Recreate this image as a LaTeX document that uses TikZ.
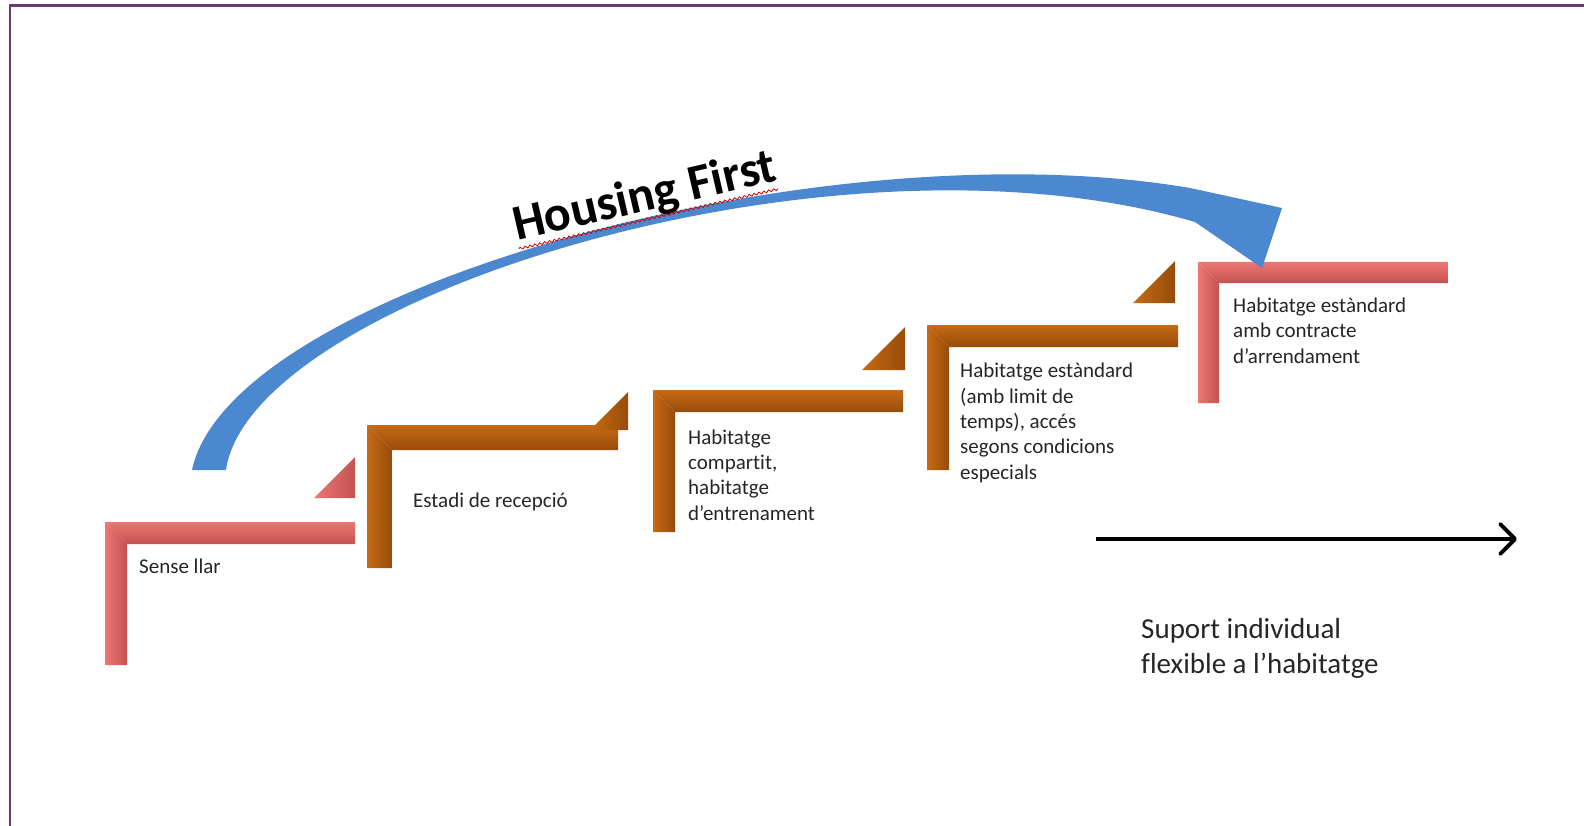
\documentclass[tikz,border=0pt]{standalone}
\usepackage{fontspec}
\setmainfont{Carlito}[Ligatures=NoCommon]
\usetikzlibrary{arrows.meta,decorations.pathmorphing}
\definecolor{pinkL}{RGB}{248,165,160}
\definecolor{pinkM}{RGB}{236,118,115}
\definecolor{pinkD}{RGB}{196,82,82}
\definecolor{orL}{RGB}{238,150,70}
\definecolor{orM}{RGB}{198,106,20}
\definecolor{orD}{RGB}{150,76,10}
\definecolor{arrowblue}{RGB}{76,136,208}
\definecolor{framepurple}{RGB}{110,58,112}
\newcommand\lstep[6]{%
  \shade[left color=#6M, middle color=#6L, right color=#6D]
    (#1,#2) -- (#1+#3,#2+#3) -- (#1+#3,#5) -- (#1,#5) -- cycle;
  \shade[top color=#6M, middle color=#6M, bottom color=#6D]
    (#1,#2) -- (#4,#2) -- (#4,#2+#3) -- (#1+#3,#2+#3) -- cycle;
}
\newcommand\ltri[4]{%
  \shade[left color=#4M, right color=#4D]
    (#1-#3,#2+#3) -- (#1,#2) -- (#1,#2+#3) -- cycle;
}
\tikzset{
  lbl/.style={font=\fontsize{21}{25.3}\selectfont, align=left, inner sep=0pt, text=black!85, anchor=base west},
  biglbl/.style={font=\fontsize{29}{35}\selectfont, align=left, inner sep=0pt, text=black!85, anchor=base west},
  supportarrow/.style={line width=3.8pt, -{Straight Barb[length=15pt,width=30pt,round]}},
}
\begin{document}
\begin{tikzpicture}[x=1pt,y=-1pt]
\useasboundingbox (0,0) rectangle (1584,826);
\fill[white] (0,0) rectangle (1584,826);
\draw[framepurple, line width=2.5pt] (10,826) -- (10,5.5) -- (1584,5.5);

% steps
\lstep{105}{522}{22}{355}{665}{pink}
\ltri{355}{457}{41}{pink}
\lstep{367}{425}{25}{618}{568}{or}
\ltri{628}{392}{38}{or}
\lstep{653}{390}{22}{903}{532}{or}
\ltri{905}{327}{43}{or}
\lstep{927}{325}{22}{1178}{470}{or}
\ltri{1175}{261}{42}{or}
\lstep{1198}{262}{21}{1448}{403}{pink}

% labels (base anchor = baseline of last line)
\node[lbl] (t1) at (139,573) {Sense llar};
\node[lbl] (t2) at (413,507) {Estadi de recepció};
\node[lbl] (t3) at (688,520) {Habitatge\\compartit,\\habitatge\\d’entrenament};
\node[lbl] (t4) at (960,479) {Habitatge estàndard\\(amb limit de\\temps), accés\\segons condicions\\especials};
\node[lbl] (t5) at (1233,363) {Habitatge estàndard\\amb contracte\\d’arrendament};
\node[biglbl] (t6) at (1141,673) {Suport individual\\flexible a l’habitatge};

% support arrow
\coordinate (sa) at (1096,539);
\coordinate (sb) at (1517,539);
\draw[supportarrow] (sa) -- (sb);

% Housing First curved arrow
\fill[arrowblue] (192,470) .. controls (230,290) and (820,125) .. (1190,188)
  -- (1282,208) -- (1262,268) -- (1195,222)
  .. controls (830,115) and (250,300) .. (226,470) -- cycle;

\begin{scope}[shift={(517,241)}, rotate=13]
  \node[transform shape, anchor=base west, inner sep=0pt, font=\fontsize{50}{58}\selectfont\bfseries] (hf) at (0,0) {Housing First};
  \draw[red!80!black, line width=0.8pt, decorate, decoration={snake, amplitude=1.2pt, segment length=5pt}] (0,8) -- (266,8);
\end{scope}
\end{tikzpicture}
\end{document}
